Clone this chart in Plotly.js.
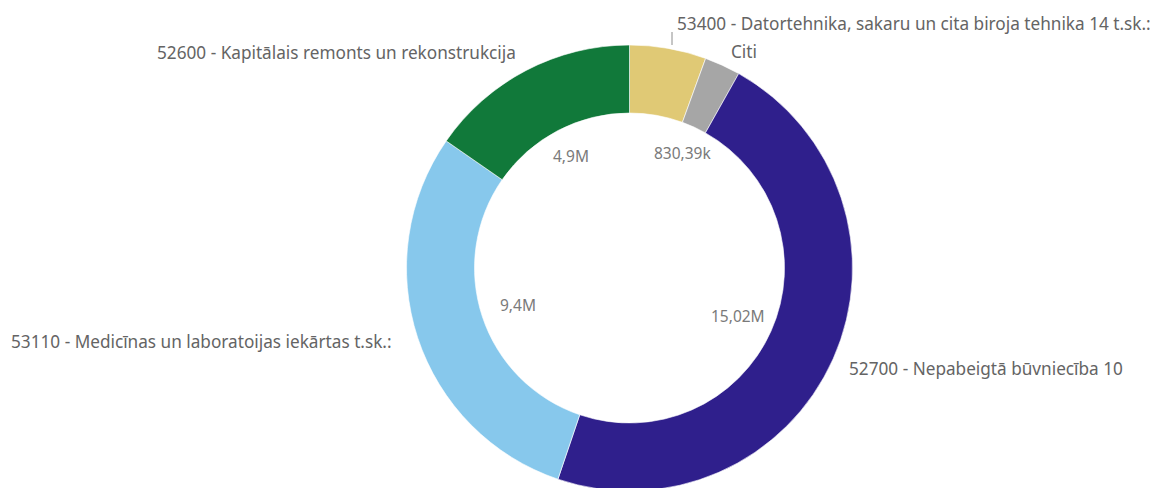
<!DOCTYPE html>
<html>
<head>
<meta charset="utf-8">
<script src="https://cdn.plot.ly/plotly-3.0.1.min.js"></script>
<style>
html,body{margin:0;padding:0;overflow:hidden;background:#fff;}
#chart{width:1162px;height:494px;}
</style>
</head>
<body>
<div id="chart"></div>
<script>
// ---- data ----
const categories = [
  "53400 - Datortehnika, sakaru un cita biroja tehnika 14 t.sk.:",
  "Citi",
  "52700 - Nepabeigtā būvniecība 10",
  "53110 - Medicīnas un laboratoijas iekārtas t.sk.:",
  "52600 - Kapitālais remonts un rekonstrukcija"
];
const values = [1770000, 830390, 15020000, 9400000, 4900000];
const valueLabels = ["", "830,39k", "15,02M", "9,4M", "4,9M"];
const colors = ["#e0c975", "#a6a6a6", "#2f1f8c", "#87c8ec", "#11793a"];

// ---- geometry (pixels) ----
const W = 1162, H = 494;
const cx = 629.5, cy = 268, R = 223;
const P = (x, y) => ({x: x / W, y: 1 - y / H});

const trace = {
  type: "pie",
  labels: categories,
  values: values,
  sort: false,
  direction: "clockwise",
  rotation: 0,
  hole: 0.695,
  textinfo: "none",
  hoverinfo: "label+value",
  marker: {colors: colors, line: {color: "#ffffff", width: 0.6}},
  domain: {x: [(cx - R) / W, (cx + R) / W], y: [1 - (cy + R) / H, 1 - (cy - R) / H]},
  showlegend: false
};

const annotations = [];
// value labels placed along each slice's middle angle, just inside the hole
const total = values.reduce((a, b) => a + b, 0);
let cum = 0;
values.forEach((v, i) => {
  const mid = (cum + v / 2) / total * 2 * Math.PI;
  cum += v;
  if (!valueLabels[i]) return;
  const r = 134 - 17 * Math.abs(Math.sin(mid));
  const px = cx + r * Math.sin(mid);
  const py = cy - r * Math.cos(mid);
  const p = P(px, py);
  annotations.push({xref: "paper", yref: "paper", x: p.x, y: p.y, text: valueLabels[i],
    showarrow: false, xanchor: "center", yanchor: "middle",
    font: {family: "Noto Sans, sans-serif", size: 15.5, color: "#7a7a7a"}});
});

// outside category labels
const labelPos = [
  {i: 0, x: 675, y: 23},
  {i: 1, x: 729, y: 51},
  {i: 2, x: 847, y: 368},
  {i: 3, x: 9, y: 341},
  {i: 4, x: 155, y: 53}
];
labelPos.forEach(o => {
  const p = P(o.x, o.y);
  annotations.push({xref: "paper", yref: "paper", x: p.x, y: p.y, text: categories[o.i],
    showarrow: false, xanchor: "left", yanchor: "middle",
    font: {family: "Noto Sans, sans-serif", size: 17.2, color: "#646464"}});
});

const a = P(672, 32), b = P(672, 45);
const layout = {
  width: W, height: H,
  margin: {l: 0, r: 0, t: 0, b: 0},
  paper_bgcolor: "#ffffff",
  annotations: annotations,
  shapes: [{type: "line", xref: "paper", yref: "paper", x0: a.x, y0: a.y, x1: b.x, y1: b.y,
    line: {color: "#8c8c8c", width: 1}}]
};

Plotly.newPlot("chart", [trace], layout, {displayModeBar: false, staticPlot: true});
</script>
</body>
</html>
